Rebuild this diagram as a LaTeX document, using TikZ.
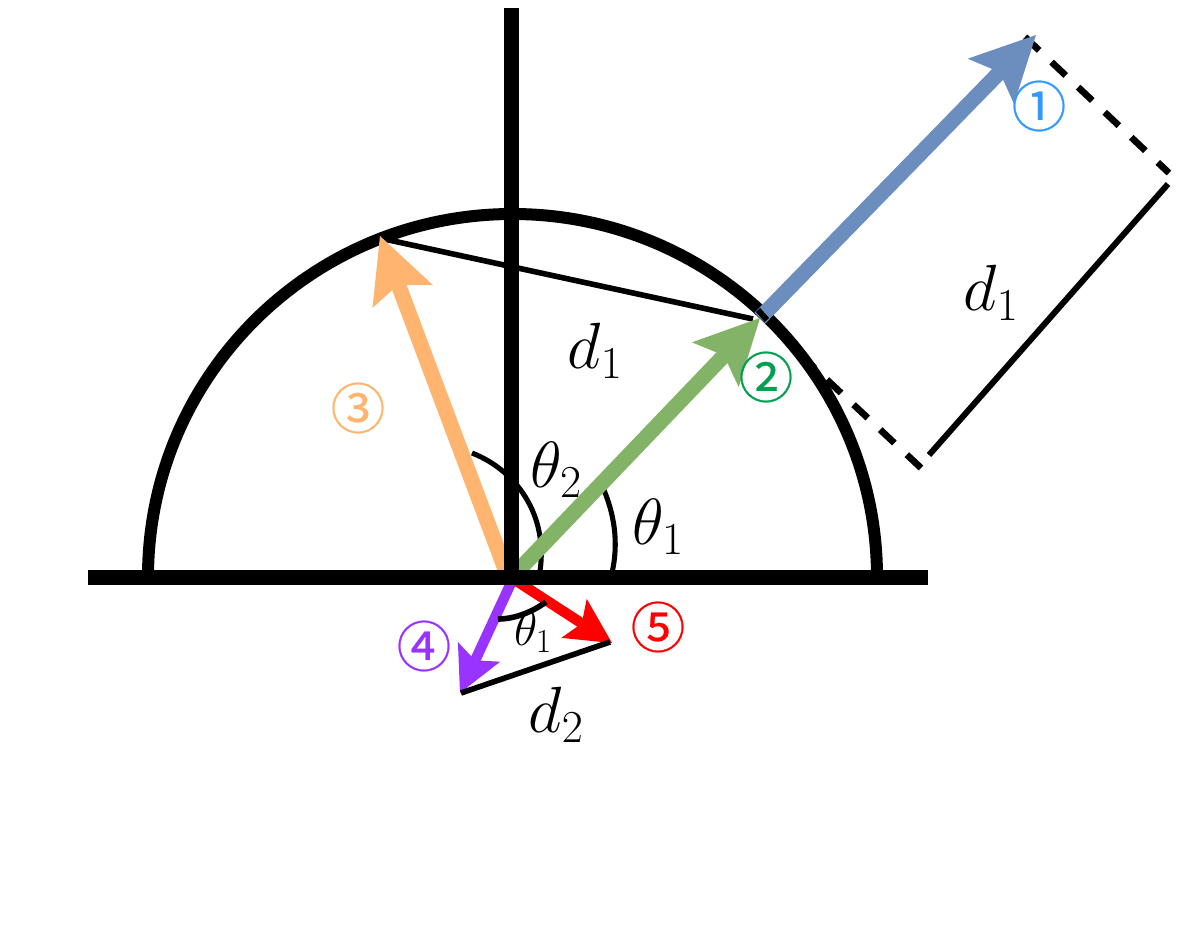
\RequirePackage{fix-cm}
\documentclass[tikz,border=0pt]{standalone}
\usepackage{amsmath}
\usepackage{fontspec}
\newfontfamily\cjkfont[FakeBold=0.4]{Noto Sans CJK JP}
\usetikzlibrary{arrows.meta}
\definecolor{cblue}{HTML}{6C8EBF}
\definecolor{cgreen}{HTML}{82B366}
\definecolor{corange}{HTML}{FFB570}
\definecolor{cpurple}{HTML}{9933FF}
\definecolor{cred}{HTML}{FF0000}
\definecolor{lblone}{HTML}{3399FF}
\definecolor{lbltwo}{HTML}{00A050}
\tikzset{
  bigarrow/.style={line width=11.5pt,-{Stealth[length=48.5pt,width=48.5pt,inset=9.5pt,line width=0pt]}},
  smallarrow/.style={line width=7.8pt,-{Stealth[length=34pt,width=35pt,inset=7pt,line width=0pt]}},
  axisline/.style={line width=11.25pt,black},
  thinline/.style={line width=4.2pt,black},
  dashline/.style={line width=5pt,black,dash pattern=on 14.6pt off 12.8pt},
  bigmath/.style={inner sep=0pt,font=\fontsize{49}{54}\selectfont},
  smallmath/.style={inner sep=0pt,font=\fontsize{36}{40}\selectfont},
  circ/.style={inner sep=0pt,font=\fontsize{41}{44}\cjkfont}
}
\begin{document}
\begin{tikzpicture}[x=0.75pt,y=-0.75pt]
\useasboundingbox (0,0) rectangle (1188,942);
\coordinate (O) at (512,577);
\coordinate (Hl) at (88,577);
\coordinate (Hr) at (928,577);
\coordinate (Vt) at (511.5,8);
\coordinate (Vb) at (511.5,577);
\coordinate (blueS) at (760,318);
\coordinate (blueT) at (1036,35);
\coordinate (greenS) at (512,577);
\coordinate (greenT) at (760,318);
\coordinate (orangeS) at (507,574);
\coordinate (orangeT) at (380,236);
\coordinate (purpleS) at (511,583);
\coordinate (purpleT) at (460,693);
\coordinate (redS) at (515,580);
\coordinate (redT) at (612,643);
\coordinate (chordA) at (384,239);
\coordinate (chordB) at (753,319);
\coordinate (dA) at (1025,37);
\coordinate (dB) at (1169,173);
\coordinate (dC) at (1168,184);
\coordinate (dD) at (929,455);
\coordinate (dE) at (921,468);
\coordinate (dF) at (790,345);
\coordinate (dG) at (758,310);
\coordinate (dH) at (767,320);
\coordinate (lowA) at (461,693);
\coordinate (lowB) at (610,642);
% dashed and solid rectangle sides
\draw[dashline] (dA) -- (dB);
\draw[line width=4.5pt] (dC) -- (dD);
\draw[dashline] (dE) -- (dF);
% angle arcs
\draw[line width=3.8pt] (472,453) .. controls (520,472) and (550,520) .. (539,577);
\draw[line width=3.8pt] (603,488) .. controls (617,520) and (618,550) .. (611,577);
% semicircle
\draw[line width=9pt] (148,577) arc[start angle=180,end angle=360,x radius=364.5,y radius=363];
% blue
\draw[bigarrow,color=cblue] (blueS) -- (blueT);
\draw[line width=4.4pt] (dG) -- (dH);
% chord
\draw[thinline] (chordA) -- (chordB);
% arrows
\draw[bigarrow,color=cgreen] (greenS) -- (greenT);
\draw[bigarrow,color=corange] (orangeS) -- (orangeT);
\draw[smallarrow,color=cpurple] (purpleS) -- (purpleT);
\draw[smallarrow,color=cred] (redS) -- (redT);
% axes
\draw[axisline] (Hl) -- (Hr);
\draw[axisline] (Vt) -- (Vb);
% lower bits
\draw[thinline] (lowA) -- (lowB);
\draw[line width=4.2pt] (498,619) .. controls (515,619) and (532,612) .. (546,602);
% labels
\node[bigmath] (d1a) at (991,293) {$d_1$};
\node[bigmath] (d1b) at (595,351) {$d_1$};
\node[bigmath] (t2) at (556,470) {$\theta_2$};
\node[bigmath] (t1) at (658,527) {$\theta_1$};
\node[smallmath] (t1s) at (533,632) {$\theta_1$};
\node[bigmath] (d2) at (556,715) {$d_2$};
\node[circ,text=lblone] (c1) at (1039,106) {①};
\node[circ,text=lbltwo] (c2) at (766,377) {②};
\node[circ,text=corange] (c3) at (358,408) {③};
\node[circ,text=cpurple] (c4) at (424,646) {④};
\node[circ,text=cred] (c5) at (658,627) {⑤};
\end{tikzpicture}
\end{document}
